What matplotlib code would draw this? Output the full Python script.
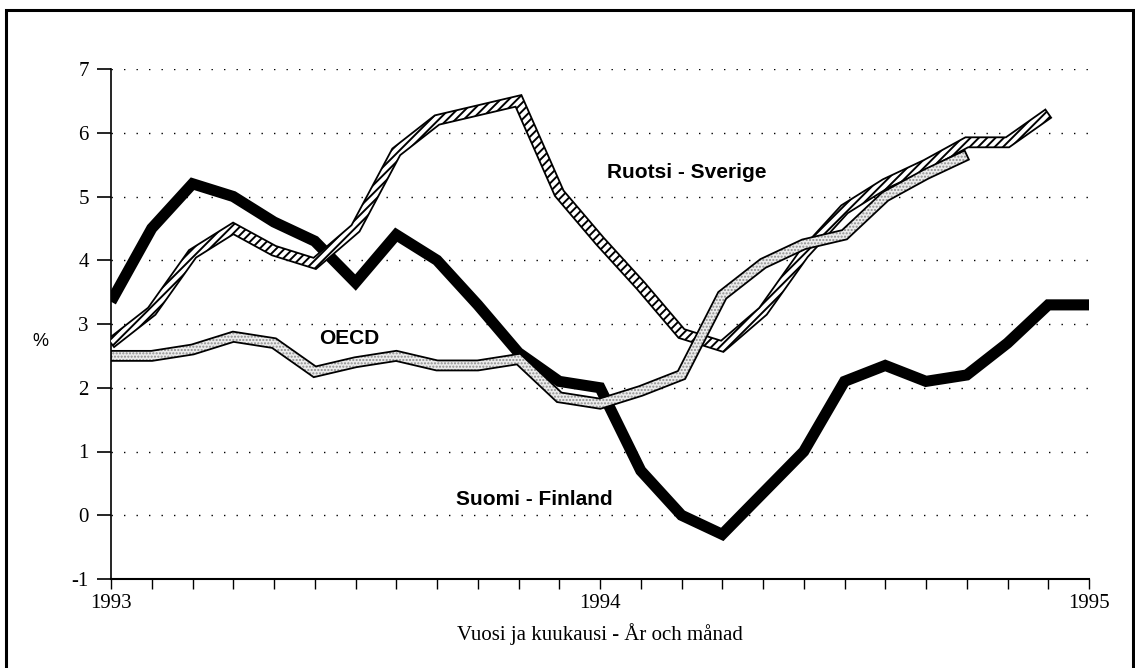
import matplotlib
matplotlib.use("Agg")
import matplotlib.pyplot as plt
import numpy as np
from matplotlib.patches import Polygon, Rectangle

# %%
# Data, monthly from January 1993
# ------------------------------------------------------

finland = [3.35, 4.5, 5.2, 5.0, 4.6, 4.3, 3.65, 4.4, 4.0, 3.3, 2.55, 2.1,
           2.0, 0.7, 0.0, -0.3, 0.35, 1.0, 2.1, 2.35, 2.1, 2.2, 2.7, 3.3, 3.3]
sweden = [2.7, 3.2, 4.1, 4.5, 4.15, 3.95, 4.5, 5.7, 6.2, 6.35, 6.5, 5.05,
          4.3, 3.6, 2.85, 2.65, 3.2, 4.1, 4.8, 5.2, 5.5, 5.85, 5.85, 6.3]
oecd = [2.5, 2.5, 2.6, 2.8, 2.7, 2.25, 2.4, 2.5, 2.35, 2.35, 2.45, 1.85,
        1.75, 1.95, 2.2, 3.45, 3.95, 4.25, 4.4, 5.0, 5.35, 5.65]

year_labels = ["1993", "1994", "1995"]
n_months = 24
y_ticks = [-1, 0, 1, 2, 3, 4, 5, 6, 7]

serif = "Liberation Serif"
sans = "Liberation Sans"


def ribbon(ax, y, width_px, face, hatch, hatch_col, z):
    """Draw a series as an outlined band of constant width (mitred corners)."""
    x = np.arange(len(y))
    pts = ax.transData.transform(np.column_stack([x, y]))
    seg = np.diff(pts, axis=0)
    seg /= np.linalg.norm(seg, axis=1)[:, None]
    nrm = np.column_stack([-seg[:, 1], seg[:, 0]])
    half = width_px / 2
    offs = []
    for i in range(len(pts)):
        if i == 0:
            n = nrm[0]
        elif i == len(pts) - 1:
            n = nrm[-1]
        else:
            m = nrm[i - 1] + nrm[i]
            m /= np.linalg.norm(m)
            n = m / max(np.dot(m, nrm[i]), 0.35)
        offs.append(n * half)
    offs = np.array(offs)
    outline = np.vstack([pts + offs, (pts - offs)[::-1]])
    inv = ax.transData.inverted()
    outline = inv.transform(outline)
    ax.add_patch(Polygon(outline, facecolor=face, edgecolor=hatch_col,
                         hatch=hatch, lw=0, zorder=z))
    ax.add_patch(Polygon(outline, fill=False, edgecolor="k", lw=1.3,
                         zorder=z, joinstyle="miter"))


fig = plt.figure(figsize=(11.35, 6.68), dpi=100)
ax = fig.add_axes([111 / 1135, 1 - 579 / 668, 978 / 1135, 510 / 668])
ax.set_xlim(0, n_months)
ax.set_ylim(-1, 7)

# .. outer frame
fig.add_artist(Rectangle((6 / 1135, -0.01), 1127 / 1135, 1 - 10 / 668 + 0.01,
                         transform=fig.transFigure, fill=False,
                         edgecolor="k", lw=2.2))

# .. Finland: thick black line
ax.plot(np.arange(len(finland)), finland, color="k", lw=8.0,
        solid_joinstyle="miter", solid_capstyle="butt", zorder=2)

# .. Sweden and OECD: ribbons
plt.rcParams["hatch.linewidth"] = 1.4
ribbon(ax, sweden, 10, "white", "////", "k", 3)
plt.rcParams["hatch.linewidth"] = 1.0
ribbon(ax, oecd, 10, "#ececec", ".....", "#8c8c8c", 4)

# .. axes styling
for side in ("top", "right"):
    ax.spines[side].set_visible(False)
ax.spines["left"].set_linewidth(1.2)
ax.spines["bottom"].set_linewidth(1.5)

ax.set_yticks(y_ticks)
ax.set_yticklabels([str(v) for v in y_ticks], fontfamily=serif, fontsize=15)
ax.tick_params(axis="y", direction="out", length=10, width=1.2, pad=6)

xt = list(range(n_months + 1))
ax.set_xticks(xt)
ax.set_xticklabels([year_labels[i // 12] if i % 12 == 0 else "" for i in xt],
                   fontfamily=serif, fontsize=15)
ax.tick_params(axis="x", direction="out", length=7, width=1.0, pad=4)

ax.set_axisbelow(True)
ax.yaxis.grid(True, color="k", lw=1.0, linestyle=(0, (1, 8)))

ax.set_xlabel("Vuosi ja kuukausi - År och månad", fontfamily=serif,
              fontsize=15, labelpad=7)
fig.text(40 / 1135, 1 - 342 / 668, "%", fontfamily=sans, fontsize=13,
         ha="center", va="center")

# .. series labels
ax.text(14.13, 5.38, "Ruotsi - Sverige", fontfamily=sans, fontweight="bold",
        fontsize=15, ha="center", va="center", zorder=6)
ax.text(5.84, 2.77, "OECD", fontfamily=sans, fontweight="bold",
        fontsize=15, ha="center", va="center", zorder=6)
ax.text(10.38, 0.24, "Suomi - Finland", fontfamily=sans, fontweight="bold",
        fontsize=15, ha="center", va="center", zorder=6)

fig.savefig("out.png", dpi=100)
